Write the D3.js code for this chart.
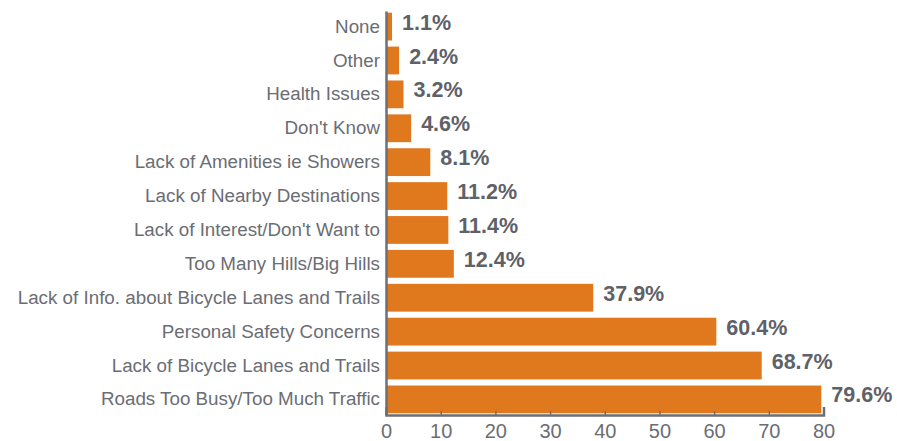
<!DOCTYPE html>
<html>
<head>
<meta charset="utf-8">
<script src="https://cdn.jsdelivr.net/npm/d3@7"></script>
<style>
  html, body { margin: 0; padding: 0; background: #fff; }
  svg { display: block; }
</style>
</head>
<body>
<svg id="chart" width="897" height="441"></svg>
<script>
// Reasons for not cycling (percent of respondents)
const categories = [
  "None",
  "Other",
  "Health Issues",
  "Don't Know",
  "Lack of Amenities ie Showers",
  "Lack of Nearby Destinations",
  "Lack of Interest/Don't Want to",
  "Too Many Hills/Big Hills",
  "Lack of Info. about Bicycle Lanes and Trails",
  "Personal Safety Concerns",
  "Lack of Bicycle Lanes and Trails",
  "Roads Too Busy/Too Much Traffic"
];
const values = [1.1, 2.4, 3.2, 4.6, 8.1, 11.2, 11.4, 12.4, 37.9, 60.4, 68.7, 79.6];
const xTicks = [0, 10, 20, 30, 40, 50, 60, 70, 80];

const svg = d3.select("#chart");
const axisColor = "#6d6f76";
const barColor = "#e0781d";
const font = "Liberation Sans, Arial, sans-serif";

const x = d3.scaleLinear().domain([0, 80]).range([386, 823.5]);
const y = d3.scaleBand().domain(categories)
  .range([11, 415]).paddingInner(0.18).paddingOuter(0.05);

// bars
svg.append("g").selectAll("rect").data(values).join("rect")
  .attr("x", x(0))
  .attr("y", (d, i) => y(categories[i]))
  .attr("width", d => x(d) - x(0))
  .attr("height", y.bandwidth())
  .attr("fill", barColor);

// value labels
svg.append("g").selectAll("text").data(values).join("text")
  .attr("x", d => x(d) + 10)
  .attr("y", (d, i) => y(categories[i]) + y.bandwidth() / 2 - 4.5)
  .attr("dy", "0.35em")
  .attr("font-family", font)
  .attr("font-weight", "bold")
  .attr("font-size", 21.5)
  .attr("fill", "#5f6168")
  .text(d => d.toFixed(1) + "%");

// category axis
const yAxis = svg.append("g")
  .attr("transform", `translate(${x(0)},0)`)
  .call(d3.axisLeft(y).tickSize(0).tickPadding(6));
yAxis.select(".domain").attr("stroke", axisColor).attr("stroke-width", 2.5);
yAxis.selectAll("text")
  .attr("font-family", font)
  .attr("font-size", 18.8)
  .attr("fill", "#6b6d74");

// value axis
const xAxis = svg.append("g")
  .attr("transform", `translate(0,415)`)
  .call(d3.axisBottom(x).tickValues(xTicks).tickSize(-4).tickSizeOuter(-8).tickPadding(9));
xAxis.select(".domain").attr("stroke", axisColor).attr("stroke-width", 2.5);
xAxis.selectAll(".tick line").attr("stroke", axisColor).attr("stroke-width", 1.5);
xAxis.selectAll("text")
  .attr("font-family", font)
  .attr("font-size", 20)
  .attr("fill", "#6b6d74");
</script>
</body>
</html>
